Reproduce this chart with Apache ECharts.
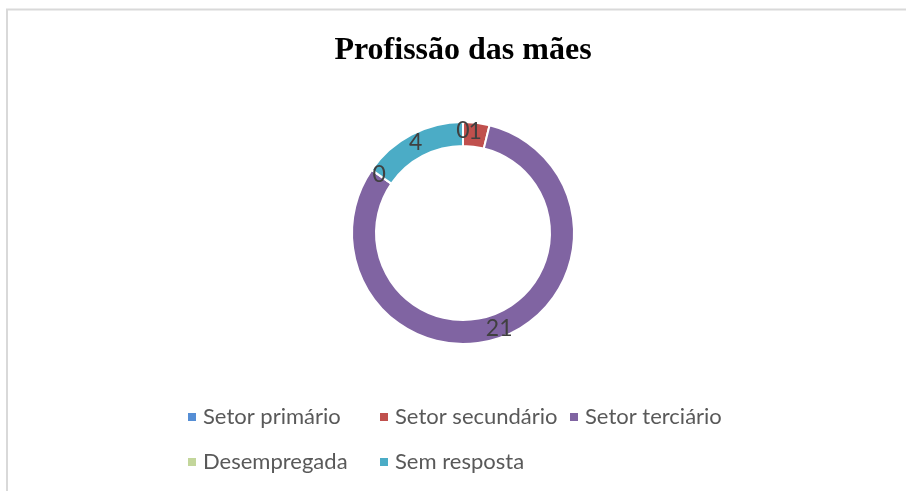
<!DOCTYPE html>
<html>
<head>
<meta charset="utf-8">
<style>
  html, body { margin: 0; padding: 0; background: #ffffff; }
  #chart { width: 906px; height: 491px; }
</style>
<script src="https://cdn.jsdelivr.net/npm/echarts@6/dist/echarts.min.js"></script>
</head>
<body>
<div id="chart"></div>
<script>
// Occupation of the mothers (count of responses)
const categories = ['Setor primário', 'Setor secundário', 'Setor terciário', 'Desempregada', 'Sem resposta'];
const counts = [0, 1, 21, 0, 4];
const colors = ['#558ED5', '#C0504D', '#8064A2', '#C3D69B', '#4BACC6'];

// Legend grid: two rows, three columns
const legendSlots = [
  { left: 186, top: 406 },
  { left: 378, top: 406 },
  { left: 568, top: 406 },
  { left: 186, top: 451 },
  { left: 378, top: 451 }
];

const textFont = 'Lato, "Noto Sans", sans-serif';

const chart = echarts.init(document.getElementById('chart'), null, { renderer: 'canvas' });

const legends = categories.map((name, i) => ({
  data: [name],
  left: legendSlots[i].left,
  top: legendSlots[i].top,
  padding: 0,
  itemWidth: 10,
  itemHeight: 10,
  icon: 'rect',
  selectedMode: false,
  textStyle: {
    color: '#595959',
    fontFamily: textFont,
    fontSize: 22,
    padding: [0, 0, 0, 1]
  }
}));

chart.setOption({
  animation: false,
  backgroundColor: '#ffffff',
  color: colors,
  title: {
    text: 'Profissão das mães',
    left: 458,
    top: 30,
    textAlign: 'center',
    textStyle: {
      fontFamily: '"Liberation Serif", "Times New Roman", serif',
      fontWeight: 'bold',
      fontSize: 32,
      color: '#000000'
    }
  },
  legend: legends,
  graphic: [{
    type: 'rect',
    shape: { x: 7, y: 9.5, width: 1200, height: 1200 },
    style: { fill: 'none', stroke: '#D9D9D9', lineWidth: 2 },
    silent: true,
    z: -1
  }],
  series: [{
    type: 'pie',
    center: [463, 233],
    radius: [87, 111],
    startAngle: 90,
    clockwise: true,
    avoidLabelOverlap: false,
    minShowLabelAngle: 0,
    labelLayout: { hideOverlap: false },
    itemStyle: { borderColor: '#ffffff', borderWidth: 2 },
    label: {
      show: true,
      position: 'inside',
      formatter: '{c}',
      color: '#404040',
      fontFamily: textFont,
      fontSize: 23
    },
    labelLine: { show: false },
    emphasis: { disabled: true },
    data: categories.map((name, i) => ({ name: name, value: counts[i] }))
  }]
});
</script>
</body>
</html>
